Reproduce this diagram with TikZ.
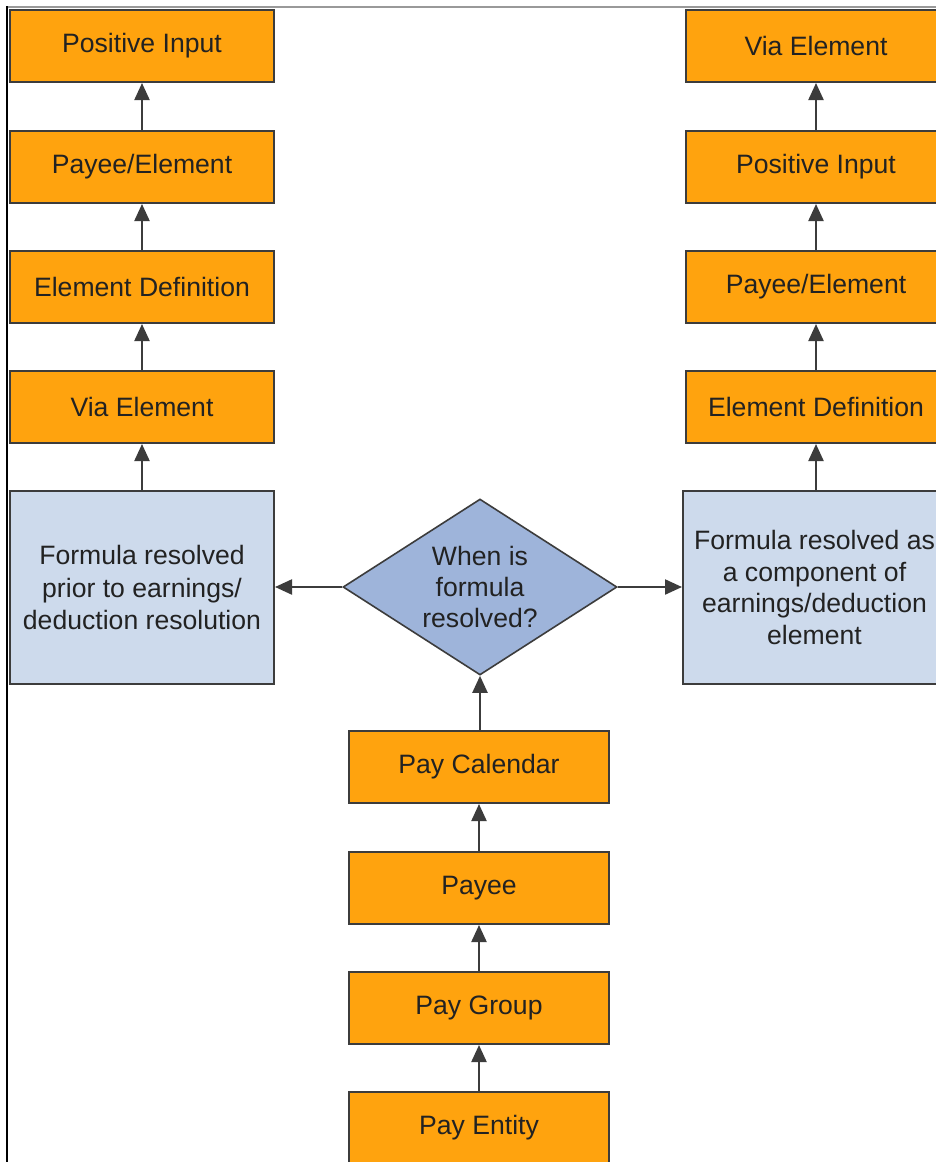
\documentclass[tikz,border=0pt]{standalone}
\usepackage{fontspec}
\setmainfont{Liberation Sans}
\usetikzlibrary{arrows.meta,shapes.geometric}
\definecolor{orangefill}{RGB}{255,163,14}
\definecolor{bluebox}{RGB}{205,218,236}
\definecolor{bluedia}{RGB}{158,180,218}
\definecolor{edgegray}{RGB}{60,60,60}
\definecolor{txt}{RGB}{34,34,34}
\tikzset{
  orangebox/.style={draw=edgegray, line width=2pt, fill=orangefill, minimum width=264pt, minimum height=72pt, inner sep=0pt, text=txt, font=\fontsize{26.6}{31}\selectfont},
  lightbox/.style={draw=edgegray, line width=2pt, fill=bluebox, minimum width=264pt, minimum height=193pt, inner sep=0pt, align=center, text=txt, font=\fontsize{26.6}{32.5}\selectfont},
  decision/.style={diamond, draw=edgegray, line width=1.6pt, fill=bluedia, minimum width=274pt, minimum height=176pt, inner sep=0pt, shape aspect=1.557, align=center, text=txt, font=\fontsize{26.6}{31}\selectfont},
  conn/.style={draw=edgegray, line width=2.2pt, -{Triangle[length=17pt,width=15pt]}}
}
\begin{document}
\begin{tikzpicture}[x=1pt,y=-1pt]
\useasboundingbox (0,0) rectangle (936,1162);
\fill[white] (0,0) rectangle (936,1162);
% frame lines
\draw[gray!80, line width=2pt] (6,7) -- (936,7);
\draw[black, line width=2pt] (7,6) -- (7,1162);
% left column
\node[orangebox] (lpi) at (142,46) {Positive Input};
\node[orangebox] (lpe) at (142,167) {Payee/Element};
\node[orangebox] (led) at (142,287) {Element Definition};
\node[orangebox] (lve) at (142,407) {Via Element};
\node[lightbox] (lfr) at (142,587.5) {Formula resolved\\prior to earnings/\\deduction resolution};
% right column
\node[orangebox, minimum width=260pt] (rve) at (816,46) {Via Element};
\node[orangebox, minimum width=260pt] (rpi) at (816,167) {Positive Input};
\node[orangebox, minimum width=260pt] (rpe) at (816,287) {Payee/Element};
\node[orangebox, minimum width=260pt] (red) at (816,407) {Element Definition};
\node[lightbox, minimum width=263pt, font=\fontsize{26.6}{31.5}\selectfont] (rfr) at (814.5,587.5) {Formula resolved as\\a component of\\earnings/deduction\\element};
% center
\node[decision] (dec) at (480,587) {When is\\formula\\resolved?};
\node[orangebox, minimum width=260pt] (pcal) at (479,767) {Pay Calendar};
\node[orangebox, minimum width=260pt] (payee) at (479,888) {Payee};
\node[orangebox, minimum width=260pt] (pgrp) at (479,1008) {Pay Group};
\node[orangebox, minimum width=260pt] (pent) at (479,1128) {Pay Entity};
% connectors
\draw[conn] (lpe.north) -- (lpi.south);
\draw[conn] (led.north) -- (lpe.south);
\draw[conn] (lve.north) -- (led.south);
\draw[conn] (lfr.north) -- (lve.south);
\draw[conn] (rpi.north -| rve.south) -- (rve.south);
\draw[conn] (rpe.north) -- (rpi.south);
\draw[conn] (red.north) -- (rpe.south);
\draw[conn] (rfr.north -| red.south) -- (red.south);
\draw[conn] (dec.west) -- (lfr.east |- dec.west);
\draw[conn] (dec.east) -- (rfr.west |- dec.east);
\draw[conn] (pcal.north -| dec.south) -- (dec.south);
\draw[conn] (payee.north) -- (pcal.south);
\draw[conn] (pgrp.north) -- (payee.south);
\draw[conn] (pent.north) -- (pgrp.south);
\end{tikzpicture}
\end{document}
